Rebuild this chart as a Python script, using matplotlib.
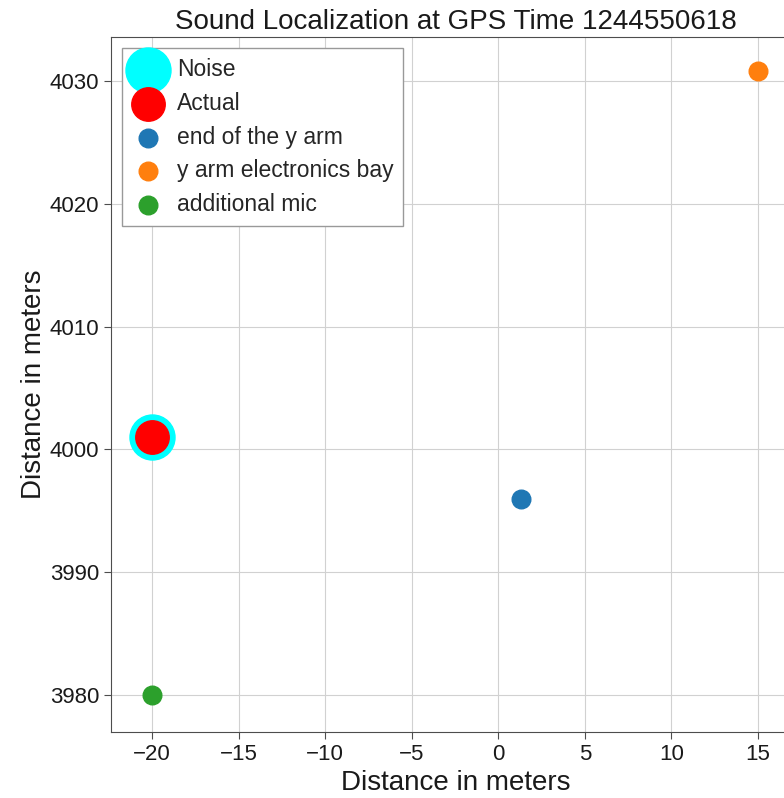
import matplotlib
matplotlib.use("Agg")
import matplotlib.pyplot as plt
import seaborn as sns

sns.set_style("whitegrid", {"xtick.bottom": True, "ytick.left": True,
                            "axes.edgecolor": ".3", "grid.color": ".82"})
plt.rcParams['font.family'] = ['Liberation Sans', 'DejaVu Sans']

title = "Sound Localization at GPS Time 1244550618"
noise_xy = (-20.0, 4001.0)
actual_xy = (-20.0, 4001.0)
mic_labels = ["end of the y arm", "y arm electronics bay", "additional mic"]
mic_x = [1.3, 15.0, -20.0]
mic_y = [3996.0, 4030.8, 3980.0]
mic_colors = ["#1f77b4", "#ff7f0e", "#2ca02c"]

fig = plt.figure(figsize=(7.84, 7.98), dpi=100)
ax = fig.add_axes([111/784, 66/798, 689/784, 695/798])

ax.scatter([noise_xy[0]], [noise_xy[1]], s=1050, color="cyan", label="Noise", zorder=3)
ax.scatter([actual_xy[0]], [actual_xy[1]], s=580, color="red", label="Actual", zorder=4)
for x, y, lab, c in zip(mic_x, mic_y, mic_labels, mic_colors):
    ax.scatter([x], [y], s=180, color=c, label=lab, zorder=3)

ax.set_xlim(-22.37, 17.43)
ax.set_ylim(3976.99, 4033.58)
ax.set_xticks([-20, -15, -10, -5, 0, 5, 10, 15])
ax.set_yticks([3980, 3990, 4000, 4010, 4020, 4030])
ax.tick_params(labelsize=16, length=5, color=".3", labelcolor="#1a1a1a")
ax.set_xlabel("Distance in meters", fontsize=20, color="#1a1a1a", labelpad=4)
ax.set_ylabel("Distance in meters", fontsize=20, color="#1a1a1a", labelpad=2)
ax.set_title(title, fontsize=20, color="#1a1a1a", pad=6)
ax.spines['right'].set_visible(False)

leg = ax.legend(loc="upper left", fontsize=16.5, fancybox=False, frameon=True,
                borderpad=0.42, labelspacing=0.47, handlelength=1.4,
                handletextpad=0.55, borderaxespad=0.5)
leg.get_frame().set_edgecolor(".6")
leg.get_frame().set_alpha(1)

fig.savefig("out.png", dpi=100)
